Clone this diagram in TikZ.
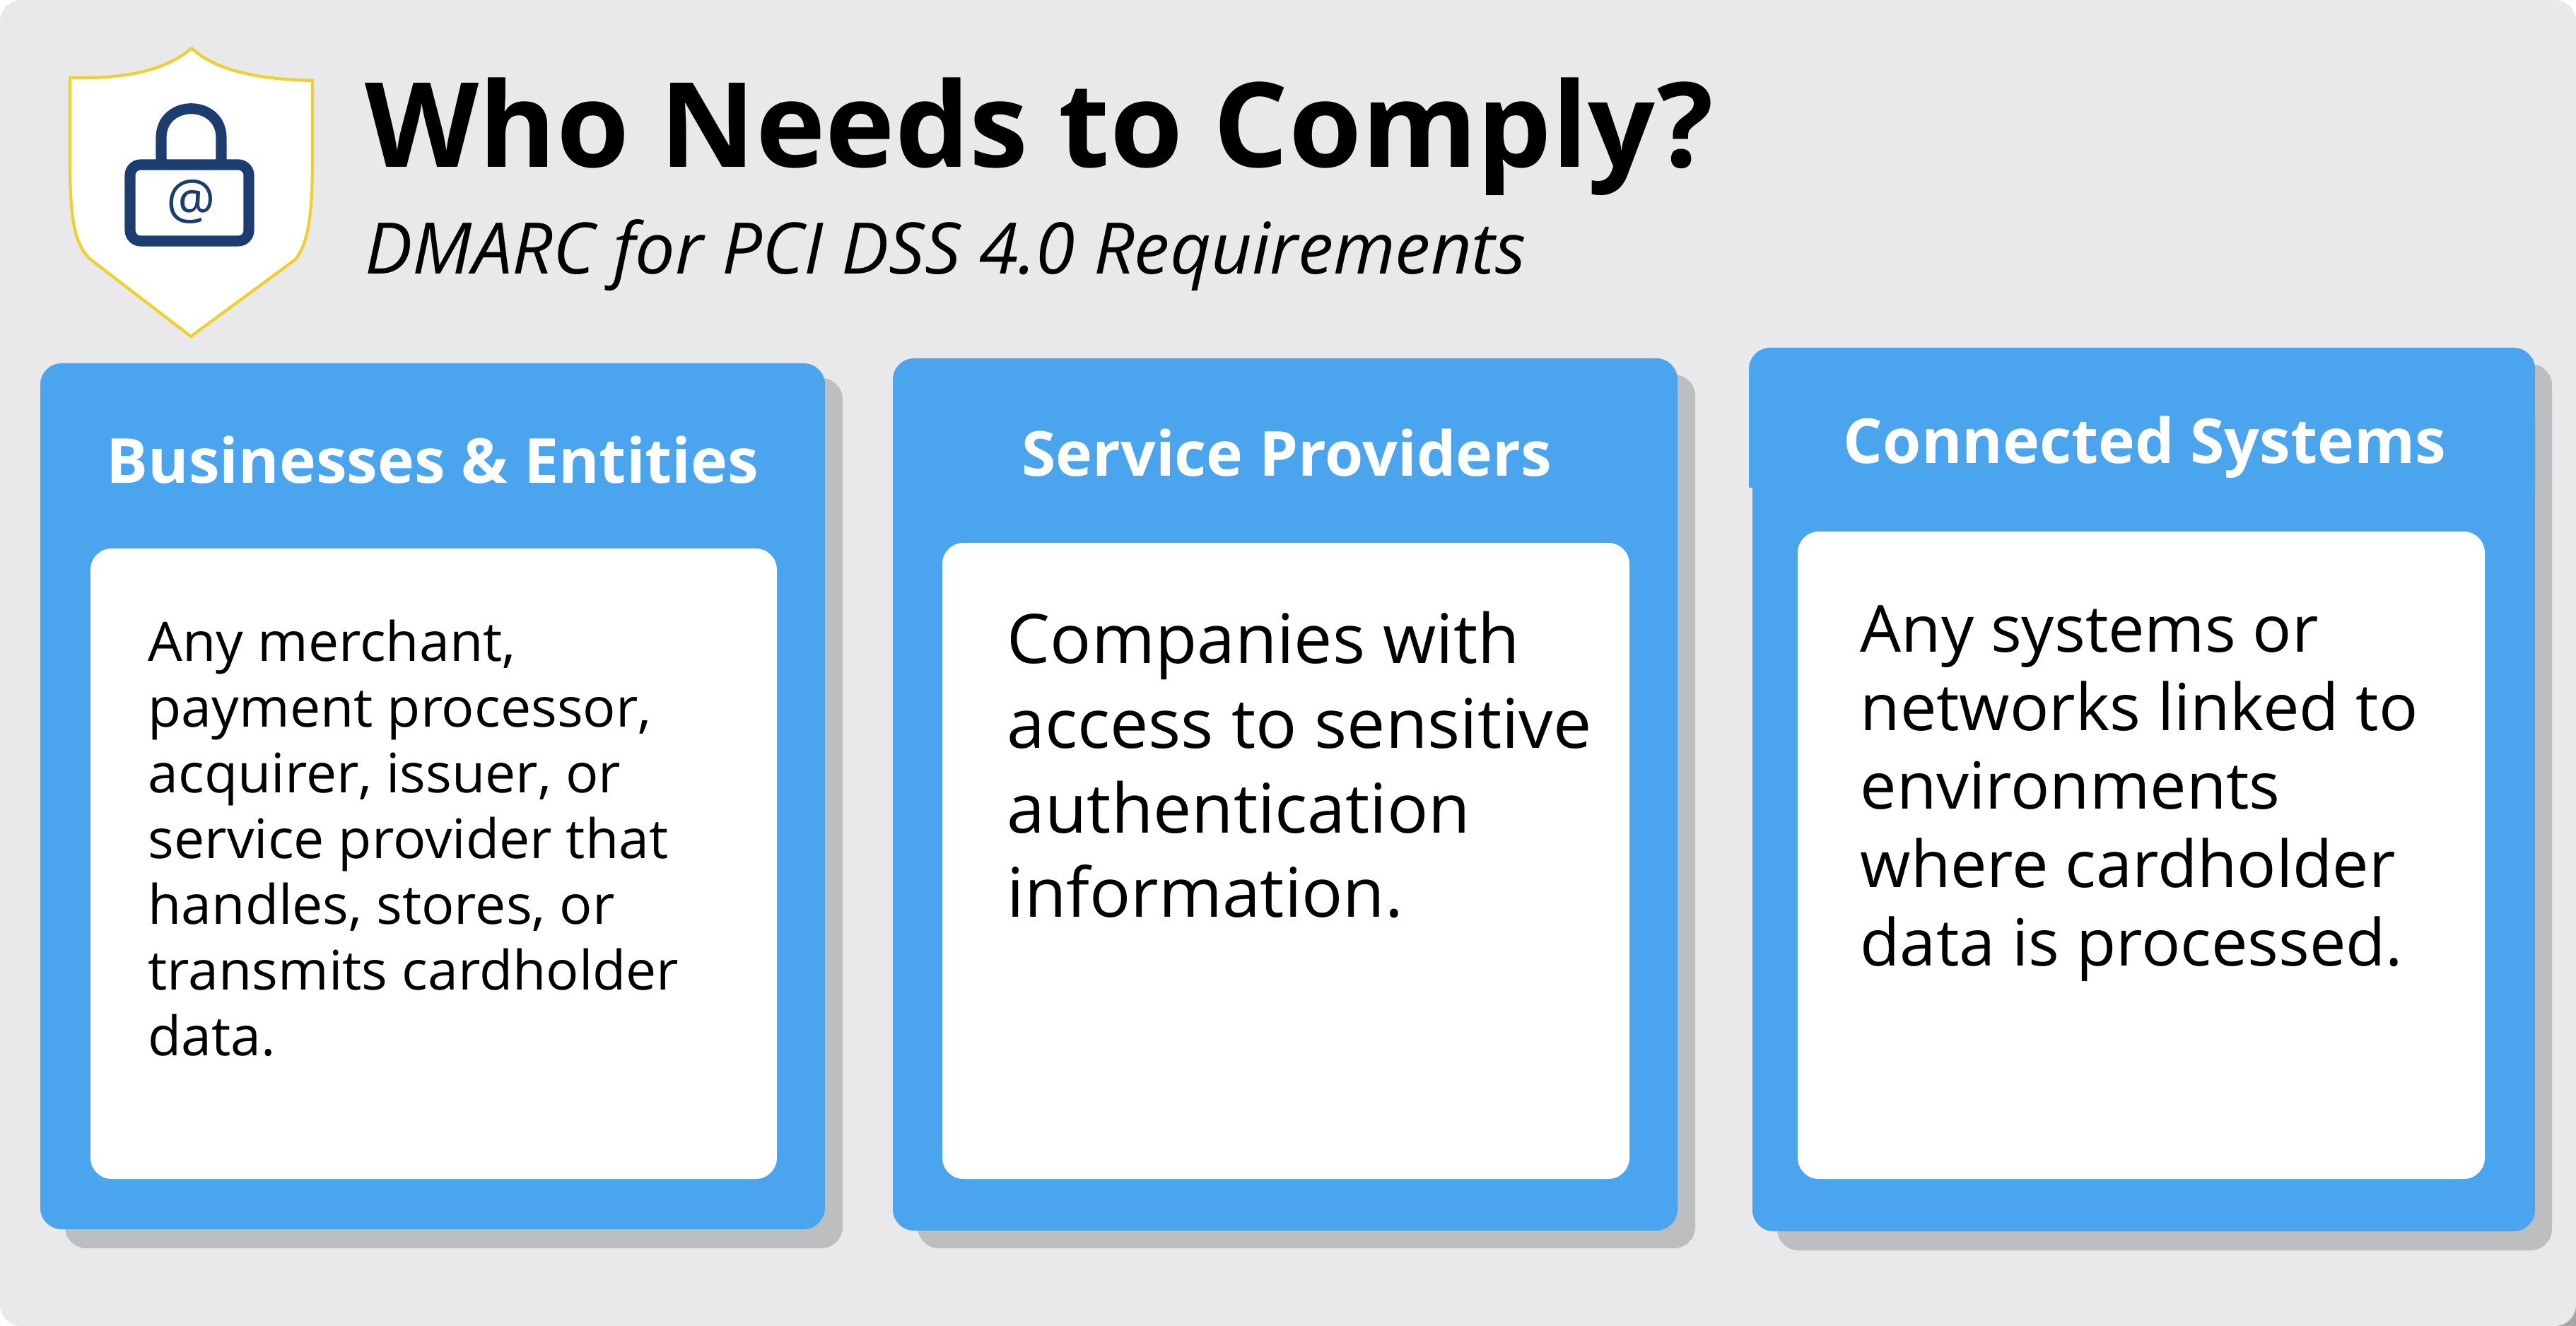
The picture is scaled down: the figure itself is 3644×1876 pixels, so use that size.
\documentclass[tikz,border=0pt]{standalone}
\usepackage{fontspec}
\setmainfont{Open Sans}
\definecolor{pagegrey}{HTML}{E9E9EB}
\definecolor{shadowgrey}{HTML}{BDBEC0}
\definecolor{cardblue}{HTML}{4AA5EE}
\definecolor{locknavy}{HTML}{1B3D70}
\definecolor{shieldyellow}{HTML}{EFD02F}
\tikzset{
    cardfill/.style={fill=cardblue,rounded corners=0.3cm},
    cardshadow/.style={fill=shadowgrey,rounded corners=0.3cm},
    innerfill/.style={fill=white,rounded corners=0.3cm},
    headtext/.style={anchor=base,inner sep=0pt,text=white,font=\fontsize{24.95}{30}\selectfont\bfseries},
    bodytext/.style={anchor=north west,inner sep=0pt,align=left,text=black}
}
\begin{document}
\begin{tikzpicture}[x=0.01cm,y=-0.01cm]
    \useasboundingbox (0,0) rectangle (3644,1876);

    % background
    \fill[white] (0,0) rectangle (3644,1876);
    \fill[gray!70] (3600,1876) rectangle (3644,1830);
    \fill[pagegrey,rounded corners=0.3cm] (0,0) rectangle (3644,1876);

    % shield with lock
    \draw[fill=white,draw=shieldyellow,line width=1.2pt] (271,68)
        .. controls (235,100) and (175,112) .. (99,110)
        -- (99,240) .. controls (100,310) and (105,345) .. (128,367)
        -- (270,476) -- (418,367)
        .. controls (435,345) and (441,310) .. (442,240)
        -- (442,114) .. controls (365,112) and (305,100) .. (271,68);
    \draw[locknavy,line width=4.3pt] (228,232) -- (228,195)
        .. controls (228,140) and (313,140) .. (313,195) -- (313,232);
    \draw[locknavy,fill=white,line width=4.3pt,rounded corners=0.15cm] (184,233) rectangle (352,341);
    \node[text=locknavy,inner sep=0pt,font=\fontsize{22}{26}\selectfont] (lockat) at (270,285) {@};

    % heading
    \node[anchor=base west,inner sep=0pt,font=\fontsize{47.4}{56}\selectfont\bfseries] (title) at (516,237) {Who Needs to Comply?};
    \node[anchor=base west,inner sep=0pt,font=\fontsize{28.6}{34}\selectfont\itshape] (subtitle) at (516,388) {DMARC for PCI DSS 4.0 Requirements};

    % first card
    \fill[cardshadow] (92,535) rectangle (1192,1766);
    \fill[cardfill] (57,514) rectangle (1167,1739);
    \fill[innerfill] (128,776) rectangle (1099,1668);
    \node[headtext] (bizhead) at (612,683) {Businesses \& Entities};
    \node[bodytext,font=\fontsize{21.9}{26.46}\selectfont] (bizbody) at (209,876) {Any merchant,\\payment processor,\\acquirer, issuer, or\\service provider that\\handles, stores, or\\transmits cardholder\\data.};

    % second card
    \fill[cardshadow] (1298,530) rectangle (2398,1766);
    \fill[cardfill] (1263,507) rectangle (2373,1741);
    \fill[innerfill] (1333,768) rectangle (2305,1668);
    \node[headtext] (provhead) at (1820,674) {Service Providers};
    \node[bodytext,font=\fontsize{27.5}{34.1}\selectfont] (provbody) at (1424,864) {Companies with\\access to sensitive\\authentication\\information.};

    % third card
    \fill[cardshadow] (2514,515) rectangle (3610,1769);
    \fill[fill=cardblue] (2474,690) [rounded corners=0.3cm] -- (2474,492) -- (3586,492) [sharp corners] -- (3586,690) -- cycle;
    \fill[cardfill] (2479,560) rectangle (3586,1742);
    \fill[innerfill] (2543,752) rectangle (3515,1668);
    \node[headtext] (syshead) at (3034,656) {Connected Systems};
    \node[bodytext,font=\fontsize{26.1}{31.58}\selectfont] (sysbody) at (2631,856) {Any systems or\\networks linked to\\environments\\where cardholder\\data is processed.};
\end{tikzpicture}
\end{document}
